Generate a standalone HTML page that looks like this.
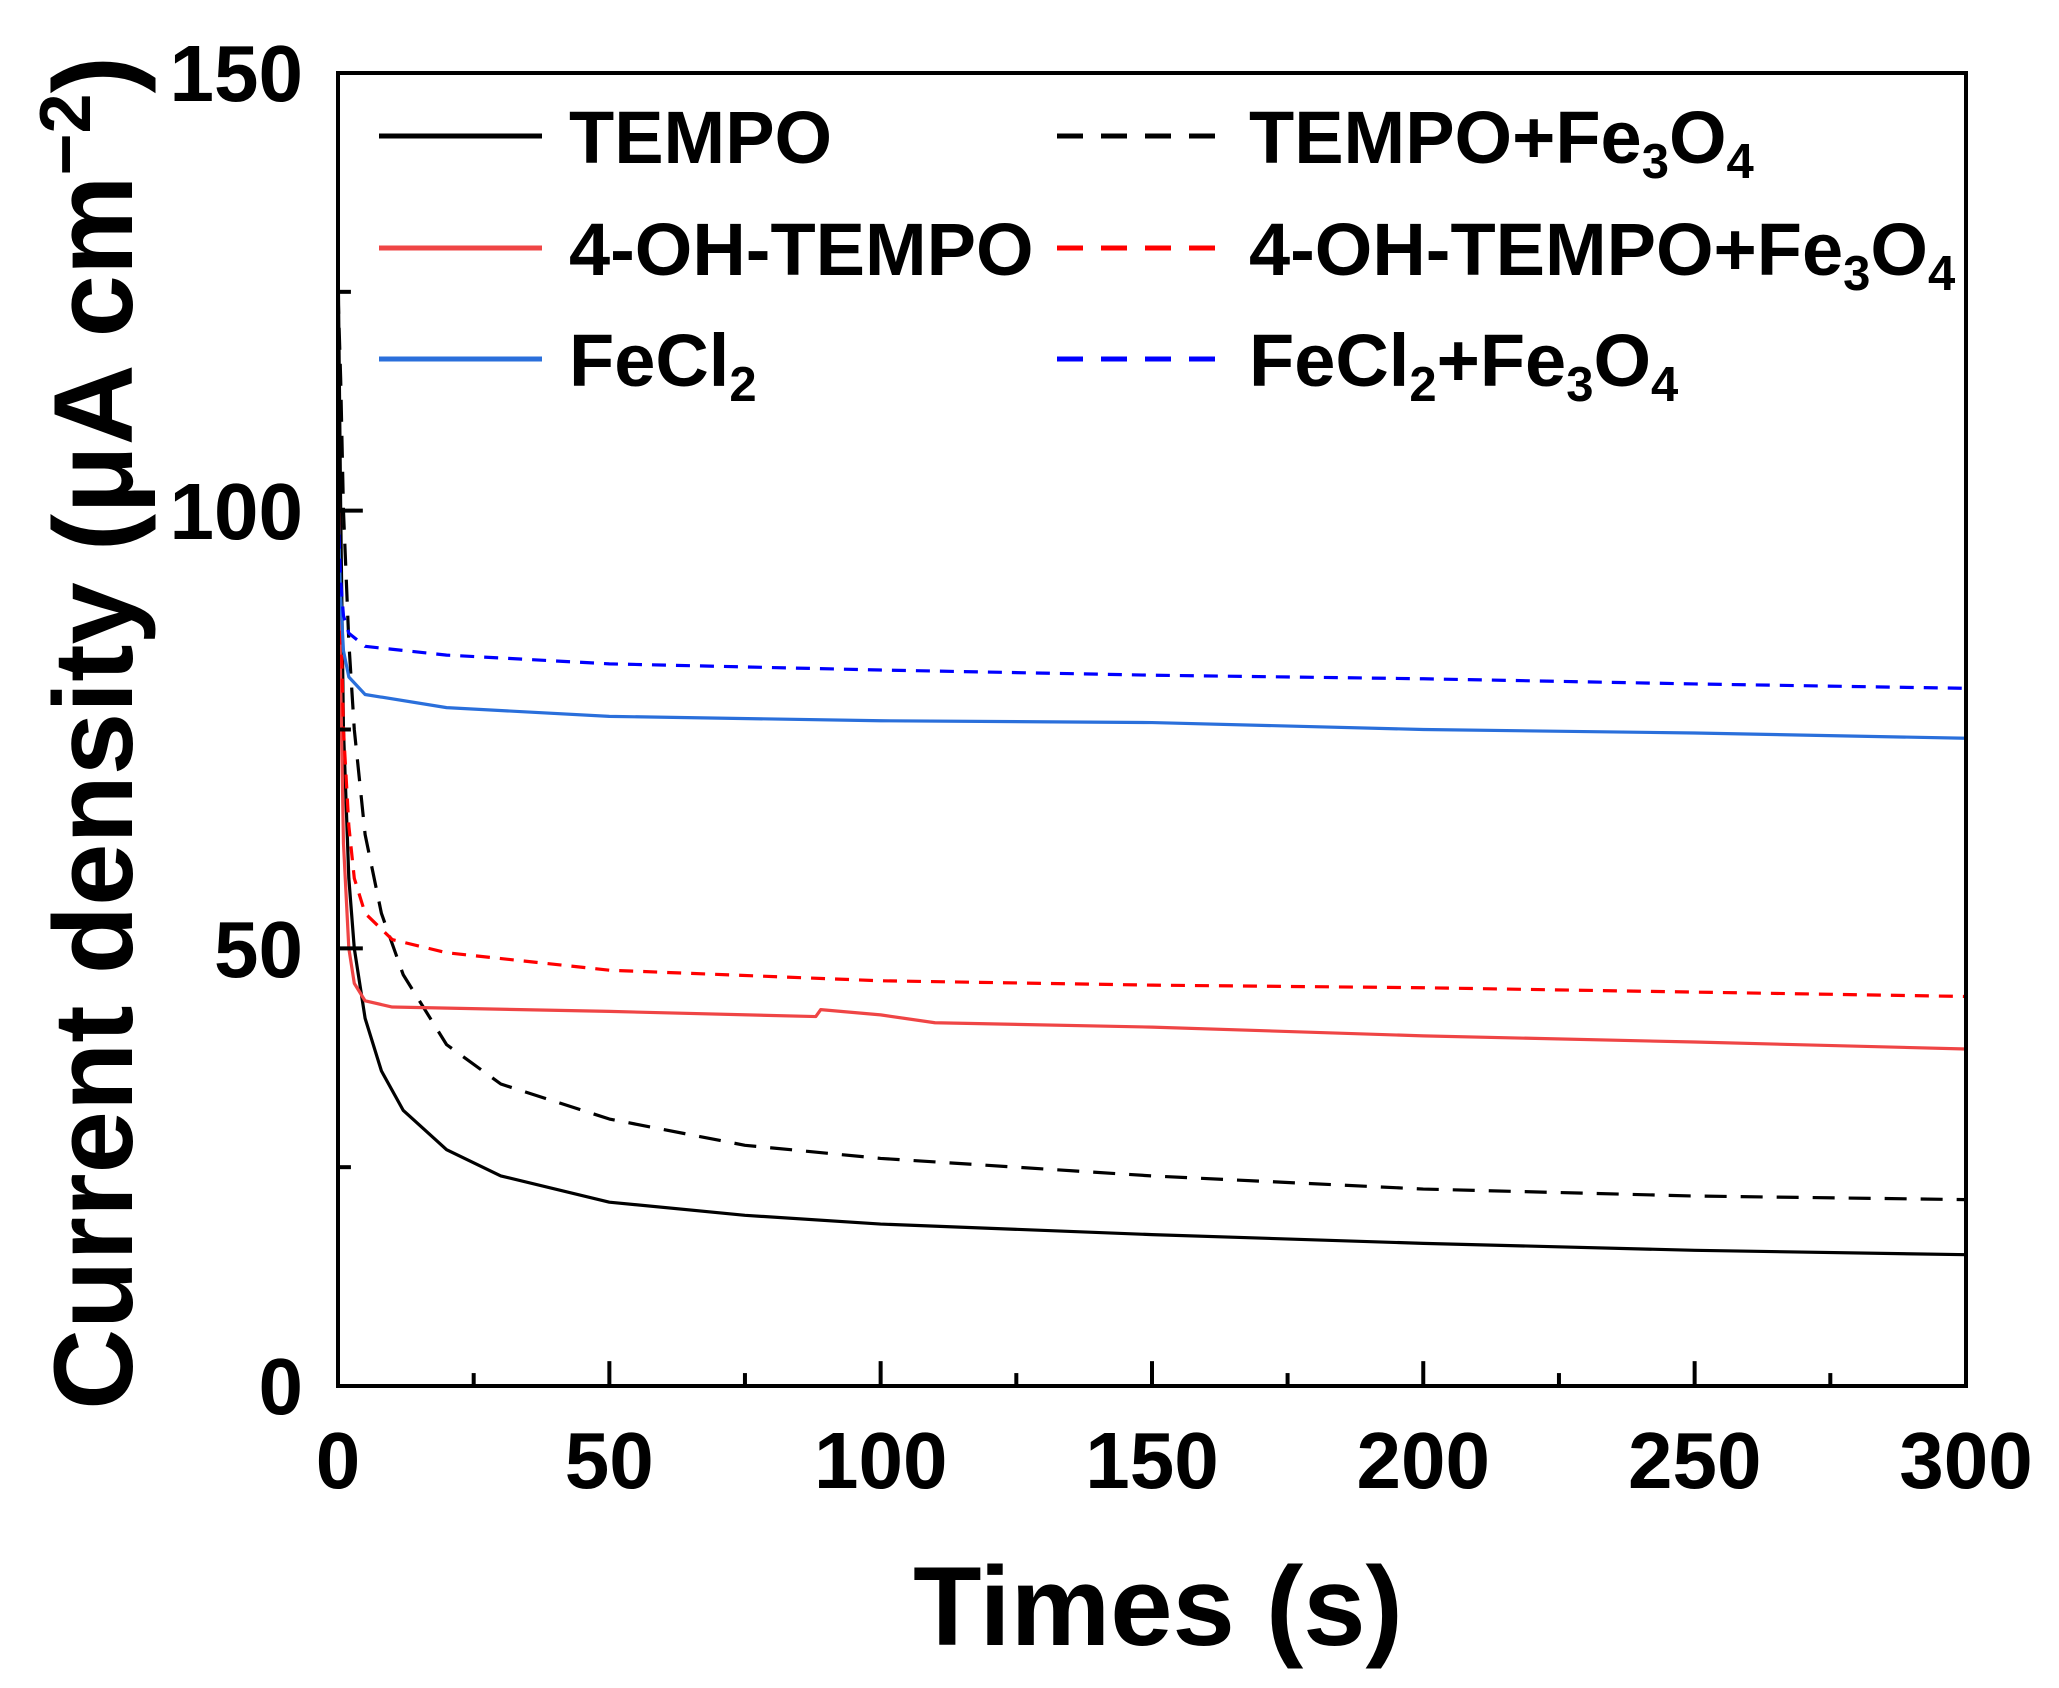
<!DOCTYPE html>
<html><head><meta charset="utf-8"><style>
html,body{margin:0;padding:0;background:#fff;}
svg{display:block;}
text{font-family:"Liberation Sans",Arial,sans-serif;font-weight:bold;fill:#000;}
</style></head><body>
<svg width="2059" height="1688" viewBox="0 0 2059 1688" xmlns="http://www.w3.org/2000/svg">
<rect width="2059" height="1688" fill="#fff"/>
<g transform="translate(2.268,0.387) scale(0.99329,0.99470)">
<g fill="none" stroke-width="3.2" stroke-linejoin="round">
<polyline vector-effect="non-scaling-stroke" stroke="#000" points="338,249 340.7,513 343.5,733 348.9,882.6 354.4,953 365.3,1023.4 381.7,1076.2 403.6,1115.8 447.3,1155.4 501.9,1181.8 611.2,1208.2 747.7,1221.4 884.3,1230.2 1157.5,1240.8 1430.6,1249.6 1703.8,1256.6 1977,1261"/>
<polyline vector-effect="non-scaling-stroke" stroke="#000" stroke-dasharray="22 14" points="338,293 340.7,381 343.5,513 348.9,645 354.4,733 365.3,838.6 381.7,917.8 403.6,979.4 447.3,1049.8 501.9,1089.4 611.2,1124.6 747.7,1151 884.3,1164.2 1157.5,1181.8 1430.6,1195 1703.8,1202 1977,1205.6"/>
<polyline vector-effect="non-scaling-stroke" stroke="#ef4545" points="338,469 340.7,689 343.5,847.4 348.9,953 354.4,988.2 365.3,1005.8 392.6,1012 611.2,1016.4 819,1021.6 824,1014.6 884.3,1019.9 939,1027.8 1157.5,1032.2 1430.6,1041 1703.8,1047.2 1977,1054.2"/>
<polyline vector-effect="non-scaling-stroke" stroke="#ff0000" stroke-dasharray="14 10" points="338,513 340.7,618.6 343.5,733 348.9,829.8 354.4,882.6 365.3,917.8 392.6,944.2 447.3,957.4 611.2,975 884.3,985.6 1157.5,990 1430.6,992.6 1703.8,997 1977,1001.4"/>
<polyline vector-effect="non-scaling-stroke" stroke="#2a6fdb" points="338,513 340.7,601 343.5,653.8 348.9,680.2 365.3,697.8 447.3,711 611.2,719.8 884.3,724.2 1157.5,726 1430.6,733 1703.8,736.5 1977,741.8"/>
<polyline vector-effect="non-scaling-stroke" stroke="#0000ff" stroke-dasharray="14 10" points="338,513 340.7,583.4 343.5,618.6 348.9,636.2 365.3,649.4 447.3,658.2 611.2,667 884.3,673.2 1157.5,678.4 1430.6,682 1703.8,687.2 1977,691.6"/>
</g>
<rect vector-effect="non-scaling-stroke" x="338" y="73" width="1639" height="1320" fill="none" stroke="#000" stroke-width="4"/>
<g stroke="#000" stroke-width="4">
<line vector-effect="non-scaling-stroke" x1="611.2" y1="1393" x2="611.2" y2="1368"/>
<line vector-effect="non-scaling-stroke" x1="884.3" y1="1393" x2="884.3" y2="1368"/>
<line vector-effect="non-scaling-stroke" x1="1157.5" y1="1393" x2="1157.5" y2="1368"/>
<line vector-effect="non-scaling-stroke" x1="1430.6" y1="1393" x2="1430.6" y2="1368"/>
<line vector-effect="non-scaling-stroke" x1="1703.8" y1="1393" x2="1703.8" y2="1368"/>
<line vector-effect="non-scaling-stroke" x1="474.6" y1="1393" x2="474.6" y2="1380"/>
<line vector-effect="non-scaling-stroke" x1="747.7" y1="1393" x2="747.7" y2="1380"/>
<line vector-effect="non-scaling-stroke" x1="1020.9" y1="1393" x2="1020.9" y2="1380"/>
<line vector-effect="non-scaling-stroke" x1="1294" y1="1393" x2="1294" y2="1380"/>
<line vector-effect="non-scaling-stroke" x1="1567.2" y1="1393" x2="1567.2" y2="1380"/>
<line vector-effect="non-scaling-stroke" x1="1840.4" y1="1393" x2="1840.4" y2="1380"/>
<line vector-effect="non-scaling-stroke" x1="338" y1="953" x2="363" y2="953"/>
<line vector-effect="non-scaling-stroke" x1="338" y1="513" x2="363" y2="513"/>
<line vector-effect="non-scaling-stroke" x1="338" y1="1173" x2="351" y2="1173"/>
<line vector-effect="non-scaling-stroke" x1="338" y1="733" x2="351" y2="733"/>
<line vector-effect="non-scaling-stroke" x1="338" y1="293" x2="351" y2="293"/>
</g>
</g>
<g font-size="80" text-anchor="end">
<text x="303" y="101">150</text>
<text x="303" y="539">100</text>
<text x="303" y="977">50</text>
<text x="303" y="1414">0</text>
</g>
<g font-size="80" text-anchor="middle">
<text x="338" y="1488">0</text>
<text x="609.3" y="1488">50</text>
<text x="880.7" y="1488">100</text>
<text x="1152" y="1488">150</text>
<text x="1423.3" y="1488">200</text>
<text x="1694.7" y="1488">250</text>
<text x="1966" y="1488">300</text>
</g>
<text x="1158" y="1645" font-size="112" text-anchor="middle">Times (s)</text>
<text transform="translate(132,733) rotate(-90)" font-size="112" text-anchor="middle">Current density (μA cm<tspan font-size="72" dy="-42">−2</tspan><tspan dy="42">)</tspan></text>
<g stroke-width="5" fill="none">
<line x1="379" y1="136" x2="542" y2="136" stroke="#000"/>
<line x1="379" y1="248" x2="542" y2="248" stroke="#ef4545"/>
<line x1="379" y1="359" x2="542" y2="359" stroke="#2a6fdb"/>
<line x1="1057" y1="136" x2="1222" y2="136" stroke="#000" stroke-dasharray="26 18"/>
<line x1="1057" y1="248" x2="1222" y2="248" stroke="#ff0000" stroke-dasharray="26 18"/>
<line x1="1057" y1="359" x2="1222" y2="359" stroke="#0000ff" stroke-dasharray="26 18"/>
</g>
<g font-size="74">
<text x="569" y="163">TEMPO</text>
<text x="569" y="275">4-OH-TEMPO</text>
<text x="569" y="386">FeCl<tspan font-size="49" dy="15">2</tspan></text>
<text x="1249" y="163">TEMPO+Fe<tspan font-size="49" dy="15">3</tspan><tspan dy="-15">O</tspan><tspan font-size="49" dy="15">4</tspan></text>
<text x="1249" y="275">4-OH-TEMPO+Fe<tspan font-size="49" dy="15">3</tspan><tspan dy="-15">O</tspan><tspan font-size="49" dy="15">4</tspan></text>
<text x="1249" y="386">FeCl<tspan font-size="49" dy="15">2</tspan><tspan dy="-15">+Fe</tspan><tspan font-size="49" dy="15">3</tspan><tspan dy="-15">O</tspan><tspan font-size="49" dy="15">4</tspan></text>
</g>
</svg>
</body></html>
